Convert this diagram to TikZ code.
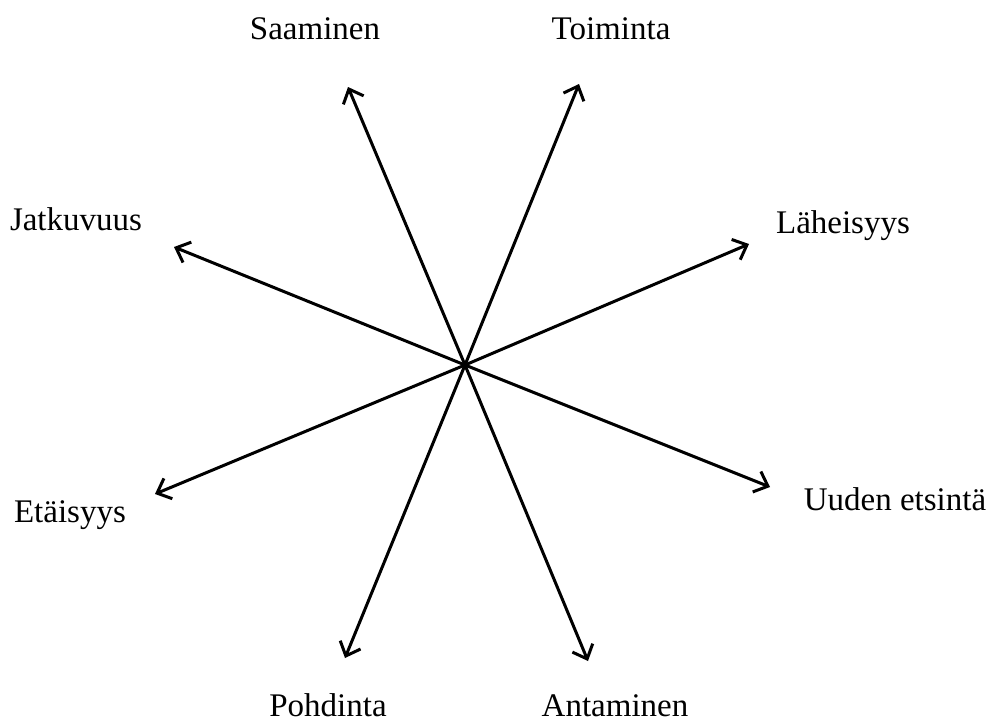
\documentclass[tikz,border=0pt]{standalone}
\usepackage{fontspec}
\setmainfont{Liberation Serif}
\usetikzlibrary{arrows.meta}
\begin{document}
\begin{tikzpicture}[
    x=1pt, y=-1pt,
    arr/.style={-{Straight Barb[length=12pt, width=22pt, line width=3pt]}, line width=3pt},
    lbl/.style={anchor=base, inner sep=0pt, font=\fontsize{33}{38}\selectfont},
  ]
  \useasboundingbox (0,0) rectangle (993,724);

  % centre
  \coordinate (c) at (465,365);

  % arrow ends
  \coordinate (saaTip) at (348,87);
  \coordinate (toiTip) at (579,84);
  \coordinate (lahTip) at (749,244);
  \coordinate (uudTip) at (770,487);
  \coordinate (antTip) at (588,661);
  \coordinate (pohTip) at (345,658);
  \coordinate (etaTip) at (155,494);
  \coordinate (jatTip) at (174,247);

  \foreach \t in {saaTip, toiTip, lahTip, uudTip, antTip, pohTip, etaTip, jatTip}
    \draw[arr] (c) -- (\t);

  % labels
  \node[lbl] (saa) at (315,39) {Saaminen};
  \node[lbl] (toi) at (611,39) {Toiminta};
  \node[lbl] (lah) at (843,233) {Läheisyys};
  \node[lbl] (uud) at (895,510) {Uuden etsintä};
  \node[lbl] (ant) at (615,716) {Antaminen};
  \node[lbl] (poh) at (328,716) {Pohdinta};
  \node[lbl] (eta) at (70,522) {Etäisyys};
  \node[lbl] (jat) at (76,230) {Jatkuvuus};

\end{tikzpicture}
\end{document}
